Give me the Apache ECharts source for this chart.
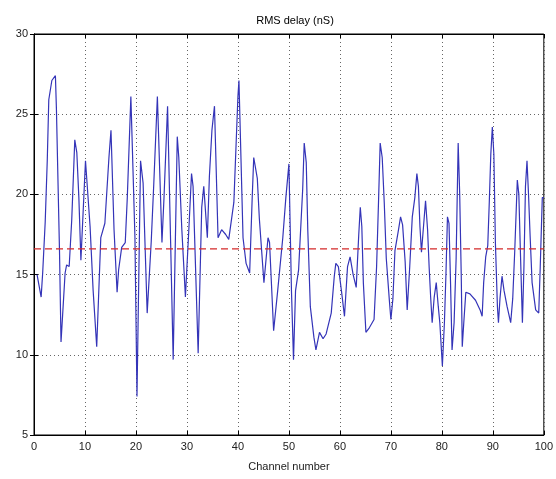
<!DOCTYPE html>
<html>
<head>
<meta charset="utf-8">
<script src="https://cdn.jsdelivr.net/npm/echarts@6/dist/echarts.min.js"></script>
<style>html,body{margin:0;padding:0;background:#fff;}#c{width:556px;height:479px;}</style>
</head>
<body>
<div id="c"></div>
<script>
const channel = [0.6,1.4,1.7,2.2,2.6,2.9,3.5,4.2,4.4,5.0,5.3,5.6,6.1,6.4,6.9,7.4,8.0,8.4,8.8,9.2,
10.1,11.0,11.6,12.3,13.1,13.9,14.7,15.1,15.7,16.3,16.6,17.2,17.9,18.3,19.0,19.8,20.2,20.9,21.4,22.2,
23.0,23.5,24.2,25.1,25.5,26.2,26.8,27.3,28.1,28.4,29.0,29.7,30.4,30.9,31.2,32.2,32.9,33.3,34.0,34.4,
34.9,35.4,36.1,36.8,37.6,38.2,39.2,40.0,40.2,41.0,41.6,42.3,42.8,43.1,43.8,44.2,45.1,45.9,46.2,47.0,
47.8,48.8,49.4,50.0,50.5,50.9,51.3,51.9,52.7,53.0,53.4,53.7,54.2,54.9,55.3,56.0,56.7,57.3,58.3,58.9,
59.2,59.7,60.3,60.9,61.5,62.0,62.6,63.2,63.7,64.0,64.3,64.6,65.1,65.8,66.7,67.2,67.6,67.9,68.3,68.7,
69.1,69.7,70.0,70.4,70.8,71.5,71.9,72.3,72.8,73.2,73.7,74.2,74.7,75.1,75.4,75.7,76.0,76.4,76.8,77.2,
77.5,77.8,78.1,78.5,78.9,79.3,79.6,80.1,80.5,80.8,81.1,81.4,81.7,82.0,82.4,82.8,83.2,83.5,83.8,84.0,
84.3,84.7,85.5,86.6,87.5,87.9,88.2,88.6,89.0,89.3,89.6,89.9,90.2,90.5,90.9,91.1,91.4,91.8,92.2,92.8,
93.5,93.9,94.3,94.8,95.1,95.4,95.8,96.1,96.4,96.7,97.0,97.3,97.7,98.4,99.0,99.3,99.7,100];
const rmsDelay = [15.0,13.6,15.1,18.3,22.1,25.9,27.1,27.4,25.3,16.5,10.8,12.4,15.1,15.6,15.5,18.4,23.4,22.6,19.8,15.9,
22.1,18.0,14.0,10.5,17.3,18.2,22.3,24.0,17.8,13.9,15.3,16.7,17.0,19.8,26.1,17.3,7.4,22.1,20.7,12.6,
17.1,20.7,26.1,17.0,19.8,25.5,17.0,9.7,23.6,22.3,17.8,13.6,18.0,21.3,20.5,10.1,19.2,20.5,17.3,21.1,
24.0,25.5,17.3,17.8,17.5,17.2,19.5,26.1,27.1,17.3,15.7,15.1,19.8,22.3,21.0,18.5,14.5,17.3,17.0,11.5,
14.0,17.3,19.8,21.9,14.0,9.7,14.0,15.3,20.3,23.2,22.0,17.8,13.0,11.1,10.3,11.4,11.0,11.3,12.6,14.9,
15.7,15.5,14.0,12.4,15.5,16.1,15.0,14.2,17.5,19.2,18.0,14.5,11.4,11.7,12.2,15.5,19.8,23.2,22.3,19.5,
16.0,13.4,12.2,13.5,16.5,17.8,18.6,18.1,15.8,12.8,15.5,18.6,19.8,21.3,20.5,18.0,16.4,18.0,19.6,17.8,
15.5,13.6,12.0,13.6,14.5,13.0,12.0,9.3,12.0,15.0,18.6,18.2,14.5,10.3,12.0,16.0,23.2,20.0,15.0,10.5,
12.0,13.9,13.8,13.4,12.8,12.4,14.5,16.1,16.8,19.5,22.5,24.2,22.5,17.0,13.0,12.0,13.5,14.9,14.0,13.0,
12.0,13.5,16.5,20.9,20.0,16.5,12.0,15.5,20.5,22.1,20.0,17.5,14.5,12.8,12.6,15.5,19.8,19.8];
const meanDelay = 16.6;
const meanSpan = [0, 100];
const xTicks = [0,10,20,30,40,50,60,70,80,90,100];
const yTicks = [5,10,15,20,25,30];

const chart = echarts.init(document.getElementById('c'), null, {renderer:'canvas'});
const font = 'Liberation Sans, Arial, sans-serif';
const lbl = {color:'#222', fontFamily:font, fontSize:11};
const tick = {show:true, inside:true, length:4, lineStyle:{color:'#000'}};
const split = {show:true, lineStyle:{color:'#666', type:[1,3], width:1}};
chart.setOption({
  animation:false,
  backgroundColor:'#fff',
  title:{text:'RMS delay (nS)', left:290, top:10, textAlign:'center',
    textStyle:{color:'#000', fontFamily:font, fontSize:11, fontWeight:'normal'}},
  grid:{left:34, right:11, top:34, bottom:44, show:true, borderColor:'#000', borderWidth:1, backgroundColor:'#fff'},
  xAxis:[{type:'value', min:0, max:100, interval:10, name:'Channel number', nameLocation:'middle', nameGap:26,
    nameTextStyle:{color:'#222', fontFamily:font, fontSize:11},
    axisLine:{show:true, lineStyle:{color:'#000'}}, axisTick:tick, splitLine:split,
    axisLabel:Object.assign({margin:6, formatter:v=>xTicks.includes(v)?String(v):''}, lbl)},
    {type:'value', min:0, max:100, interval:10, position:'top', axisLine:{show:true, lineStyle:{color:'#000'}},
    axisTick:tick, axisLabel:{show:false}, splitLine:{show:false}}],
  yAxis:[{type:'value', min:5, max:30, interval:5,
    axisLine:{show:true, lineStyle:{color:'#000'}}, axisTick:tick, splitLine:split,
    axisLabel:Object.assign({margin:6, formatter:v=>yTicks.includes(v)?String(v):''}, lbl)},
    {type:'value', min:5, max:30, interval:5, position:'right', axisLine:{show:true, lineStyle:{color:'#000'}},
    axisTick:tick, axisLabel:{show:false}, splitLine:{show:false}}],
  series:[
    {type:'line', data:channel.map((c,i)=>[c, rmsDelay[i]]), showSymbol:false, symbol:'none',
      lineStyle:{color:'#3434b8', width:1.2}, z:3},
    {type:'line', data:meanSpan.map(c=>[c, meanDelay]), showSymbol:false, symbol:'none',
      lineStyle:{color:'#d42a2a', type:[7,4], width:1.2}, z:4}
  ]
});
</script>
</body>
</html>
